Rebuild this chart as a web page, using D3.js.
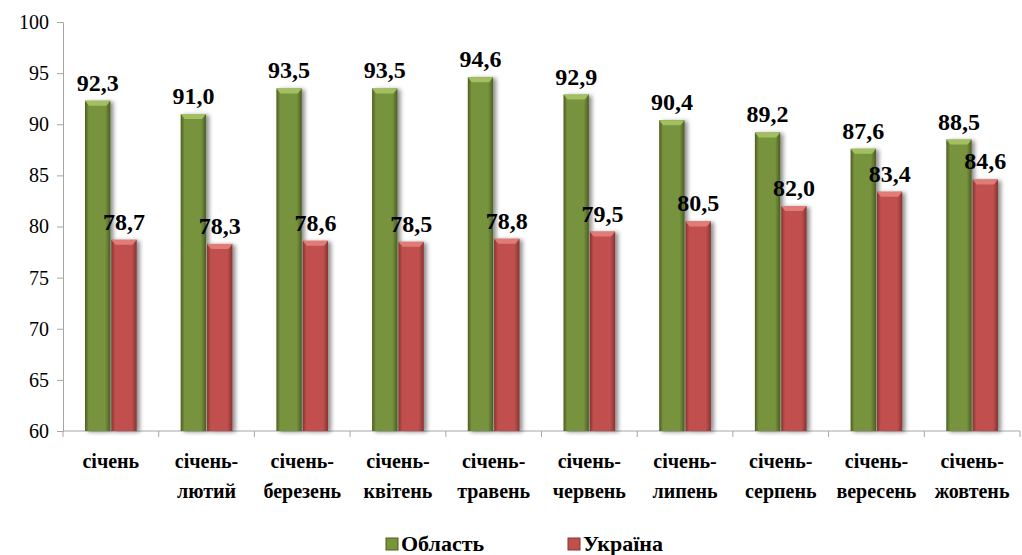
<!DOCTYPE html>
<html>
<head>
<meta charset="utf-8">
<script src="https://cdn.jsdelivr.net/npm/d3@7"></script>
<style>
  body { margin: 0; background: #fff; }
  svg text { font-family: "Liberation Serif", "DejaVu Serif", "Noto Serif", serif !important; }
</style>
</head>
<body>
<script>
// Data
var categories = [
  ["січень"], ["січень-", "лютий"], ["січень-", "березень"], ["січень-", "квітень"],
  ["січень-", "травень"], ["січень-", "червень"], ["січень-", "липень"],
  ["січень-", "серпень"], ["січень-", "вересень"], ["січень-", "жовтень"]
];
var oblastValues = [92.3, 91.0, 93.5, 93.5, 94.6, 92.9, 90.4, 89.2, 87.6, 88.5];
var ukraineValues = [78.7, 78.3, 78.6, 78.5, 78.8, 79.5, 80.5, 82.0, 83.4, 84.6];
var seriesNames = ["Область", "Україна"];
var yTicks = [60, 65, 70, 75, 80, 85, 90, 95, 100];

var serif = "'Liberation Serif', 'DejaVu Serif', serif";
var svgWidth = 1022, svgHeight = 555;
var margin = { top: 22, right: 2, bottom: 124, left: 63 };
var chartWidth = svgWidth - margin.left - margin.right;
var chartHeight = svgHeight - margin.top - margin.bottom;

var svg = d3.select("body").append("svg")
  .attr("width", svgWidth)
  .attr("height", svgHeight)
  .attr("font-family", serif);

var defs = svg.append("defs");
var palette = [
  { id: "g", base: "#77933c", light: "#a3c060", dark: "#4a5e22" },
  { id: "r", base: "#c0504d", light: "#e07c78", dark: "#873431" }
];
palette.forEach(function(p) {
  var lg = defs.append("linearGradient").attr("id", "grad-" + p.id)
    .attr("x1", "0").attr("x2", "1").attr("y1", "0").attr("y2", "0");
  lg.append("stop").attr("offset", "0%").attr("stop-color", p.dark);
  lg.append("stop").attr("offset", "15%").attr("stop-color", p.base);
  lg.append("stop").attr("offset", "80%").attr("stop-color", p.base);
  lg.append("stop").attr("offset", "100%").attr("stop-color", p.dark);
});
var shadow = defs.append("filter").attr("id", "shadow")
  .attr("x", "-30%").attr("y", "-10%").attr("width", "170%").attr("height", "130%");
shadow.append("feDropShadow").attr("dx", 3).attr("dy", 1).attr("stdDeviation", 2)
  .attr("flood-color", "#000").attr("flood-opacity", 0.45);

var g = svg.append("g").attr("transform", `translate(${margin.left},${margin.top})`);

var x0 = d3.scaleBand().domain(d3.range(categories.length)).range([0, chartWidth]).paddingInner(0).paddingOuter(0);
var x1 = d3.scaleBand().domain([0, 1]).range([22, x0.bandwidth() - 21]).padding(0);
var y = d3.scaleLinear().domain([60, 100]).range([chartHeight, 0]);

// Y axis
var yAxis = g.append("g").call(d3.axisLeft(y).tickValues(yTicks).tickSize(6).tickPadding(8));
yAxis.attr("font-family", serif);
yAxis.select(".domain").attr("stroke", "#a6a6a6");
yAxis.selectAll(".tick line").attr("stroke", "#a6a6a6");
yAxis.selectAll("text").style("font-size", "20px").attr("fill", "#000");

// X axis
var xAxis = g.append("g").attr("transform", `translate(0,${chartHeight})`);
xAxis.append("line").attr("x1", 0).attr("x2", chartWidth).attr("y1", 0).attr("y2", 0).attr("stroke", "#a6a6a6");
xAxis.selectAll(".xt").data(d3.range(categories.length + 1)).enter().append("line")
  .attr("x1", function(d) { return d * x0.step(); })
  .attr("x2", function(d) { return d * x0.step(); })
  .attr("y1", 0).attr("y2", 6).attr("stroke", "#a6a6a6");

var catLabels = xAxis.selectAll(".cat").data(categories).enter().append("text")
  .attr("text-anchor", "middle")
  .attr("x", function(d, i) { return x0(i) + x0.bandwidth() / 2; })
  .attr("y", 37)
  .style("font-size", "20px").style("font-weight", "bold");
catLabels.selectAll("tspan").data(function(d) { return d; }).enter().append("tspan")
  .attr("x", function() { return this.parentNode.getAttribute("x"); })
  .attr("dy", function(d, i) { return i === 0 ? 0 : 30; })
  .text(function(d) { return d; });

// Bars
var seriesData = [oblastValues, ukraineValues];
seriesData.forEach(function(vals, s) {
  var p = palette[s];
  var bars = g.append("g").selectAll("g").data(vals).enter().append("g")
    .attr("transform", function(d, i) { return `translate(${x0(i) + x1(s)},0)`; });
  var w = x1.bandwidth() - 1;
  bars.append("rect")
    .attr("x", 0).attr("y", function(d) { return y(d); })
    .attr("width", w).attr("height", function(d) { return chartHeight - y(d); })
    .attr("fill", "url(#grad-" + p.id + ")")
    .attr("filter", "url(#shadow)");
  // top bevel
  bars.append("path")
    .attr("d", function(d) {
      var t = y(d);
      return `M0,${t} L${w},${t} L${w - 4},${t + 5} L4,${t + 5} Z`;
    })
    .attr("fill", p.light);
  bars.append("text")
    .attr("x", w / 2)
    .attr("y", function(d) { return y(d) - 10; })
    .attr("text-anchor", "middle")
    .style("font-size", "24px").style("font-weight", "bold")
    .text(function(d) { return d.toFixed(1).replace(".", ","); });
});

// Legend
var legend = svg.append("g").attr("transform", "translate(0,545)");
var legendX = [386, 568];
seriesNames.forEach(function(name, i) {
  var p = palette[i];
  legend.append("rect").attr("x", legendX[i]).attr("y", -7).attr("width", 12).attr("height", 12)
    .attr("fill", p.base).attr("stroke", p.dark).attr("stroke-width", 1);
  legend.append("text").attr("x", legendX[i] + 15).attr("y", 6)
    .style("font-size", "22px").style("font-weight", "bold")
    .text(name);
});
</script>
</body>
</html>
